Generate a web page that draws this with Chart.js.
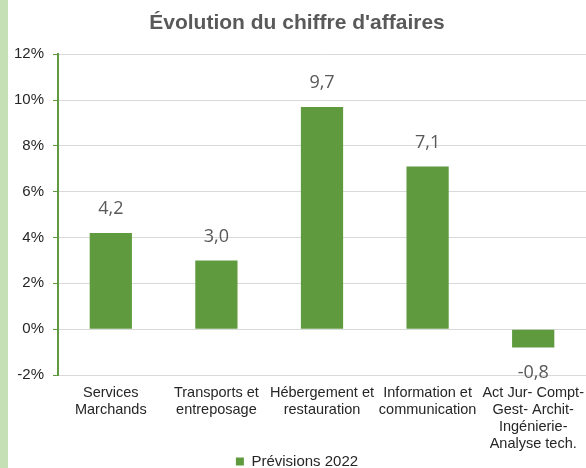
<!DOCTYPE html>
<html>
<head>
<meta charset="utf-8">
<script src="https://cdn.jsdelivr.net/npm/chart.js@4/dist/chart.umd.min.js"></script>
<style>
  html, body { margin: 0; padding: 0; background: #fff; }
  #wrap { width: 578px; height: 468px; border-left: 8px solid #c5e0b4; position: relative; }
  canvas { display: block; }
</style>
</head>
<body>
<div id="wrap"><canvas id="chart" width="578" height="468"></canvas></div>
<script>
const categories = [
    ["Services", "Marchands"],
    ["Transports et", "entreposage"],
    ["Hébergement et", "restauration"],
    ["Information et", "communication"],
    ["Act Jur- Compt-", "Gest- Archit-", "Ingénierie-", "Analyse tech."]
];
const previsions2022 = [4.2, 3.0, 9.7, 7.1, -0.8];
const seriesName = "Prévisions 2022";
const yTicks = [-2, 0, 2, 4, 6, 8, 10, 12];

const green = "#5f9b3e";
const fontFamily = "'Liberation Sans', Arial, sans-serif";

// value labels above (or below) each bar
const valueLabels = {
    id: 'valueLabels',
    afterDatasetsDraw(chart) {
        const ctx = chart.ctx;
        const meta = chart.getDatasetMeta(0);
        ctx.save();
        ctx.font = "18px 'Open Sans', sans-serif";
        ctx.fillStyle = "#595959";
        ctx.textAlign = "center";
        ctx.textBaseline = "middle";
        meta.data.forEach((bar, i) => {
            const v = chart.data.datasets[0].data[i];
            const txt = v.toFixed(1).replace('.', ',');
            const y = v >= 0 ? bar.y - 24 : bar.y + 25;
            ctx.fillText(txt, bar.x, y);
        });
        ctx.restore();
    }
};

new Chart(document.getElementById("chart"), {
    type: 'bar',
    data: {
        labels: categories,
        datasets: [{
            label: seriesName,
            data: previsions2022,
            backgroundColor: green,
            borderWidth: 0,
            barPercentage: 0.4,
            categoryPercentage: 1
        }]
    },
    options: {
        responsive: false,
        animation: false,
        layout: { padding: { top: 0, right: 0, bottom: -11, left: 0 } },
        plugins: {
            title: {
                display: true,
                text: "Évolution du chiffre d'affaires",
                color: "#595959",
                font: { family: fontFamily, size: 21, weight: 'bold' },
                padding: { top: 11, bottom: 18 }
            },
            legend: {
                position: 'bottom',
                labels: {
                    color: "#262626",
                    font: { family: fontFamily, size: 15 },
                    boxWidth: 8,
                    boxHeight: 8,
                    padding: 2
                }
            },
            tooltip: { enabled: false }
        },
        scales: {
            y: {
                min: -2,
                max: 12,
                afterBuildTicks: (scale) => {
                    scale.ticks = yTicks.map(v => ({ value: v }));
                },
                afterFit: (scale) => { scale.width = 50; },
                ticks: {
                    color: "#262626",
                    font: { family: fontFamily, size: 15 },
                    padding: 9,
                    callback: (v) => v + '%'
                },
                grid: {
                    color: "#d9d9d9",
                    lineWidth: 1,
                    tickColor: green,
                    tickLength: 5
                },
                border: { color: green, width: 2 }
            },
            x: {
                grid: { display: false },
                border: { display: false },
                afterFit: (scale) => { scale.height = 77; },
                ticks: {
                    color: "#262626",
                    font: { family: fontFamily, size: 14.5, lineHeight: 1.17 },
                    maxRotation: 0,
                    autoSkip: false,
                    padding: 2
                }
            }
        }
    },
    plugins: [valueLabels]
});
</script>
</body>
</html>
